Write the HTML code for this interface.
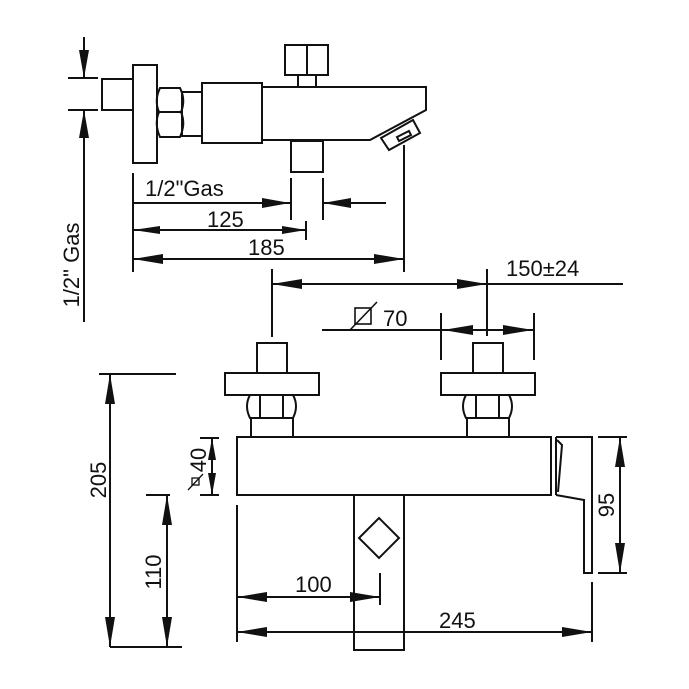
<!DOCTYPE html>
<html><head><meta charset="utf-8"><style>
html,body{margin:0;padding:0;background:#fff}
svg{display:block}
text{font-family:"Liberation Sans",sans-serif;fill:#111}
</style></head><body>
<svg width="689" height="689" viewBox="0 0 689 689" xmlns="http://www.w3.org/2000/svg">
<g fill="none" stroke="#111" stroke-width="2">
<!-- TOP VIEW -->
<line x1="84" y1="37" x2="84" y2="78"/>
<line x1="68" y1="78" x2="98" y2="78"/>
<line x1="68" y1="110" x2="98" y2="110"/>
<line x1="84" y1="110" x2="84" y2="322"/>
<rect x="102" y="79" width="31" height="31"/>
<rect x="133" y="65" width="24" height="98"/>
<path d="M160,88 L180,88 Q186,100 181,112 Q186,124 180,137 L160,137 Q154,124 159,112 Q154,100 160,88 Z"/>
<line x1="159" y1="112" x2="181" y2="112"/>
<rect x="182" y="92" width="20" height="44"/>
<rect x="202" y="83" width="60" height="60"/>
<path d="M262,87 L426,87 L426,110 L370,140 L262,140"/>
<path d="M381,138 L413,120 L420,133 L389,150 Z"/>
<path d="M397,137 L409,131 L411,135 L399,141 Z"/>
<rect x="285" y="45" width="43" height="30"/>
<line x1="307" y1="45" x2="307" y2="75"/>
<line x1="298" y1="75" x2="298" y2="87"/>
<line x1="316" y1="75" x2="316" y2="87"/>
<rect x="291" y="141" width="32" height="31"/>
<line x1="133" y1="173" x2="133" y2="272"/>
<line x1="404" y1="145" x2="404" y2="272"/>
<line x1="291" y1="178" x2="291" y2="220"/>
<line x1="323" y1="178" x2="323" y2="220"/>
<line x1="133" y1="203" x2="290" y2="203"/>
<line x1="323" y1="203" x2="386" y2="203"/>
<line x1="133" y1="230" x2="306" y2="230"/>
<line x1="306" y1="221" x2="306" y2="240"/>
<line x1="133" y1="259" x2="404" y2="259"/>
<!-- middle dims -->
<line x1="272" y1="269" x2="272" y2="337"/>
<line x1="487" y1="269" x2="487" y2="336"/>
<line x1="272" y1="284" x2="623" y2="284"/>
<line x1="322" y1="330" x2="534" y2="330"/>
<line x1="441" y1="313" x2="441" y2="360"/>
<line x1="534" y1="313" x2="534" y2="360"/>
<!-- FRONT VIEW -->
<rect x="257" y="343" width="30" height="30"/>
<rect x="225" y="373" width="94" height="22"/>
<path d="M250,395 L293,395 Q299,406 293,418 L250,418 Q244,406 250,395 Z"/>
<line x1="260" y1="395" x2="260" y2="418"/><line x1="283" y1="395" x2="283" y2="418"/>
<rect x="251" y="418" width="42" height="19"/>
<rect x="473" y="343" width="30" height="30"/>
<rect x="441" y="373" width="94" height="22"/>
<path d="M466,395 L509,395 Q515,406 509,418 L466,418 Q460,406 466,395 Z"/>
<line x1="476" y1="395" x2="476" y2="418"/><line x1="499" y1="395" x2="499" y2="418"/>
<rect x="467" y="418" width="42" height="19"/>
<rect x="237" y="437" width="314" height="58"/>
<line x1="556" y1="437" x2="556" y2="495"/>
<path d="M556,437 L592,437 L592,573 L584,573 L584,500 L556,495"/>
<path d="M557,440 L562,445 L558,492"/>
<rect x="354" y="495" width="50" height="155"/>
<path d="M379,518 L399,538 L379,558 L359,538 Z"/>
<!-- dims front -->
<line x1="200" y1="438" x2="219" y2="438"/>
<line x1="200" y1="495" x2="219" y2="495"/>
<line x1="212" y1="438" x2="212" y2="495"/>
<line x1="598" y1="437" x2="627" y2="437"/>
<line x1="598" y1="573" x2="627" y2="573"/>
<line x1="620" y1="437" x2="620" y2="573"/>
<line x1="99" y1="374" x2="176" y2="374"/>
<line x1="110" y1="647" x2="182" y2="647"/>
<line x1="110" y1="374" x2="110" y2="647"/>
<line x1="146" y1="495" x2="170" y2="495"/>
<line x1="167" y1="495" x2="167" y2="647"/>
<line x1="237" y1="505" x2="237" y2="642"/>
<line x1="592" y1="582" x2="592" y2="642"/>
<line x1="380" y1="573" x2="380" y2="605"/>
<line x1="237" y1="597" x2="380" y2="597"/>
<line x1="237" y1="632" x2="592" y2="632"/>
<!-- diameter symbols -->
<rect x="355" y="308" width="16" height="16" stroke-width="1.6"/>
<line x1="350" y1="330" x2="377" y2="302" stroke-width="1.6"/>
<rect x="192" y="478" width="7" height="7" stroke-width="1.3"/>
<line x1="188" y1="490" x2="203" y2="474" stroke-width="1.3"/>
</g>
<g fill="#111">
<polygon points="84,78 79,50 89,50"/>
<polygon points="84,110 79,138 89,138"/>
<polygon points="290,203 262,198 262,208"/>
<polygon points="323,203 351,198 351,208"/>
<polygon points="133,230 160,226 160,234"/>
<polygon points="306,230 282,226 282,234"/>
<polygon points="133,259 163,254 163,264"/>
<polygon points="404,259 374,254 374,264"/>
<polygon points="272,284 302,279 302,289"/>
<polygon points="487,284 457,279 457,289"/>
<polygon points="443,330 473,325 473,335"/>
<polygon points="533,330 503,325 503,335"/>
<polygon points="212,438 208,460 216,460"/>
<polygon points="212,495 208,473 216,473"/>
<polygon points="620,437 615,467 625,467"/>
<polygon points="620,573 615,543 625,543"/>
<polygon points="110,374 105,404 115,404"/>
<polygon points="110,647 105,617 115,617"/>
<polygon points="167,495 162,525 172,525"/>
<polygon points="167,647 162,617 172,617"/>
<polygon points="237,597 267,592 267,602"/>
<polygon points="380,597 350,592 350,602"/>
<polygon points="237,632 267,627 267,637"/>
<polygon points="592,632 562,627 562,637"/>
</g>
<g font-size="22">
<text x="145" y="196">1/2"Gas</text>
<text x="207" y="227">125</text>
<text x="248" y="255">185</text>
<text x="506" y="276">150±24</text>
<text x="383" y="326">70</text>
<text x="295" y="592">100</text>
<text x="439" y="628">245</text>
<text transform="translate(79,265) rotate(-90)" text-anchor="middle">1/2" Gas</text>
<text transform="translate(206,460) rotate(-90)" text-anchor="middle">40</text>
<text transform="translate(106,480) rotate(-90)" text-anchor="middle">205</text>
<text transform="translate(161,572) rotate(-90)" text-anchor="middle">110</text>
<text transform="translate(614,505) rotate(-90)" text-anchor="middle">95</text>
</g>
</svg>
</body></html>
